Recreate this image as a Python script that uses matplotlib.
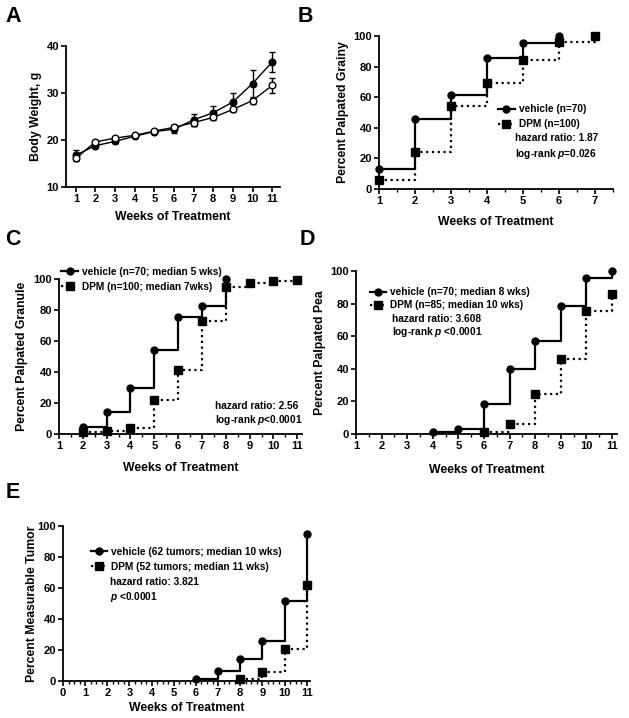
import matplotlib
matplotlib.use("Agg")
from matplotlib import pyplot as plt
from matplotlib.ticker import MultipleLocator

plt.rcParams["font.family"] = ["Liberation Sans", "DejaVu Sans"]
plt.rcParams["font.weight"] = "bold"
plt.rcParams["axes.labelweight"] = "bold"
plt.rcParams["mathtext.fontset"] = "custom"
plt.rcParams["mathtext.it"] = "Liberation Sans:italic:bold"
plt.rcParams["mathtext.rm"] = "Liberation Sans:bold"

# A: body weight
weeks_a = [1, 2, 3, 4, 5, 6, 7, 8, 9, 10, 11]
bw_filled = [16.8, 18.8, 19.7, 20.8, 21.8, 22.3, 24.3, 25.8, 28.1, 32.0, 36.6]
bw_filled_err = [1.0, 0.4, 0.4, 0.3, 0.3, 0.8, 1.3, 1.4, 2.0, 3.0, 2.2]
bw_open = [16.1, 19.6, 20.4, 21.0, 21.9, 22.7, 23.7, 24.8, 26.5, 28.4, 31.6]
bw_open_err = [0.5, 0.3, 0.3, 0.3, 0.3, 0.4, 0.8, 0.5, 0.6, 0.8, 1.6]

# B: palpated grainy
b_veh_x = [1, 2, 3, 4, 5, 6]
b_veh_y = [13.0, 45.7, 61.5, 85.9, 95.7, 100.0]
b_dpm_x = [1, 2, 3, 4, 5, 6, 7]
b_dpm_y = [6.0, 24.0, 54.0, 69.0, 84.0, 96.0, 100.0]

# C: palpated granule
c_veh_x = [2, 3, 4, 5, 6, 7, 8]
c_veh_y = [4.3, 14.3, 30.0, 54.3, 75.7, 82.9, 100.0]
c_dpm_x = [2, 3, 4, 5, 6, 7, 8, 9, 10, 11]
c_dpm_y = [1.0, 2.0, 4.0, 21.7, 41.0, 73.0, 94.6, 97.6, 98.9, 99.6]

# D: palpated pea
d_veh_x = [4, 5, 6, 7, 8, 9, 10, 11]
d_veh_y = [1.4, 2.9, 18.6, 40.0, 57.1, 78.6, 95.7, 100.0]
d_dpm_x = [6, 7, 8, 9, 10, 11]
d_dpm_y = [1.2, 5.9, 24.7, 45.9, 75.3, 85.9]

# E: measurable tumor
e_veh_x = [6, 7, 8, 9, 10, 11]
e_veh_y = [1.5, 6.3, 14.5, 25.8, 51.6, 94.8]
e_dpm_x = [8, 9, 10, 11]
e_dpm_y = [1.0, 5.8, 20.5, 61.7]

W, H = 629, 718
fig = plt.figure(figsize=(W / 100, H / 100), dpi=100)


def px_axes(left, right, top, bottom):
    return fig.add_axes([left / W, 1 - bottom / H, (right - left) / W, (bottom - top) / H])


def style(ax, xlabel, ylabel, xlab_y, ylab_x):
    for s in ["top", "right"]:
        ax.spines[s].set_visible(False)
    for s in ["left", "bottom"]:
        ax.spines[s].set_linewidth(1.3)
    ax.tick_params(which="major", length=3.5, width=1.2, labelsize=8, pad=1.5)
    ax.tick_params(which="minor", length=2, width=1.0)
    ax.set_xlabel(xlabel, fontsize=8.8)
    ax.set_ylabel(ylabel, fontsize=8.8)
    ax.xaxis.set_label_coords(0.5, xlab_y)
    ax.yaxis.set_label_coords(ylab_x, 0.5)
    ax.xaxis.label.set_va("center")
    ax.yaxis.label.set_va("center")


def km(ax, vx, vy, dx, dy):
    ax.plot(vx, vy, drawstyle="steps-post", color="black", lw=1.6,
            marker="o", ms=5, clip_on=False, zorder=3)
    ax.plot(dx, dy, drawstyle="steps-post", color="black", lw=1.6, ls=(0, (1, 1.6)),
            marker="s", ms=5.5, clip_on=False, zorder=3)


def km_legend(ax, vlab, dlab, x, y, spacing=0.5):
    h1, = ax.plot([], [], color="black", lw=1.6, marker="o", ms=5)
    h2, = ax.plot([], [], color="black", lw=1.6, ls=(0, (1, 1.6)), marker="s", ms=5.5)
    ax.legend([h1, h2], [vlab, dlab], loc="upper left", bbox_to_anchor=(x, y),
              frameon=False, fontsize=7.3, handlelength=1.6, handletextpad=0.4,
              labelspacing=spacing, borderpad=0, borderaxespad=0)


# Panel A
ax = px_axes(66, 280, 46, 187)
ax.errorbar(weeks_a, bw_filled, yerr=bw_filled_err, color="black", lw=1.0,
            marker="o", ms=4.8, mfc="black", capsize=2.5, elinewidth=1.0, clip_on=False)
ax.errorbar(weeks_a, bw_open, yerr=bw_open_err, color="black", lw=1.0,
            marker="o", ms=4.8, mfc="white", capsize=2.5, elinewidth=1.0, clip_on=False)
ax.set_xlim(0.5, 11.4)
ax.set_ylim(10, 40)
ax.set_xticks(weeks_a)
ax.set_yticks([10, 20, 30, 40])
style(ax, "Weeks of Treatment", "Body Weight, g", -0.213, -0.14)

# Panel B
ax = px_axes(379, 613, 36, 189)
km(ax, b_veh_x, b_veh_y, b_dpm_x, b_dpm_y)
ax.set_xlim(1, 7.5)
ax.set_ylim(0, 100)
ax.set_xticks(range(1, 8))
ax.xaxis.set_minor_locator(MultipleLocator(0.5))
ax.set_yticks(range(0, 101, 20))
style(ax, "Weeks of Treatment", "Percent Palpated Grainy", -0.216, -0.154)
km_legend(ax, "vehicle (n=70)", "DPM (n=100)", 0.51, 0.555)
ax.text(0.58, 0.333, "hazard ratio: 1.87", transform=ax.transAxes, fontsize=7.3, va="center")
ax.text(0.58, 0.229, r"log-rank $p$=0.026", transform=ax.transAxes, fontsize=7.3, va="center")

# Panel C
ax = px_axes(59, 302, 279, 434)
km(ax, c_veh_x, c_veh_y, c_dpm_x, c_dpm_y)
ax.set_xlim(1, 11.2)
ax.set_ylim(0, 100)
ax.set_xticks(range(1, 12))
ax.xaxis.set_minor_locator(MultipleLocator(0.5))
ax.set_yticks(range(0, 101, 20))
style(ax, "Weeks of Treatment", "Percent Palpated Granule", -0.219, -0.152)
km_legend(ax, "vehicle (n=70; median 5 wks)", "DPM (n=100; median 7wks)", 0.01, 1.08)
ax.text(0.642, 0.18, "hazard ratio: 2.56", transform=ax.transAxes, fontsize=7.3, va="center")
ax.text(0.642, 0.09, r"log-rank $p$<0.0001", transform=ax.transAxes, fontsize=7.3, va="center")

# Panel D
ax = px_axes(356, 617, 271, 434)
km(ax, d_veh_x, d_veh_y, d_dpm_x, d_dpm_y)
ax.set_xlim(1, 11.2)
ax.set_ylim(0, 100)
ax.set_xticks(range(1, 12))
ax.xaxis.set_minor_locator(MultipleLocator(0.5))
ax.set_yticks(range(0, 101, 20))
style(ax, "Weeks of Treatment", "Percent Palpated Pea", -0.221, -0.138)
km_legend(ax, "vehicle (n=70; median 8 wks)", "DPM (n=85; median 10 wks)", 0.054, 0.9, 0.3)
ax.text(0.138, 0.706, "hazard ratio: 3.608", transform=ax.transAxes, fontsize=7.3, va="center")
ax.text(0.138, 0.626, r"log-rank $p$ <0.0001", transform=ax.transAxes, fontsize=7.3, va="center")

# Panel E
ax = px_axes(63, 310, 526, 681)
km(ax, e_veh_x, e_veh_y, e_dpm_x, e_dpm_y)
ax.set_xlim(0, 11.15)
ax.set_ylim(0, 100)
ax.set_xticks(range(0, 12))
ax.xaxis.set_minor_locator(MultipleLocator(0.25))
ax.set_yticks(range(0, 101, 20))
style(ax, "Weeks of Treatment", "Percent Measurable Tumor", -0.174, -0.126)
km_legend(ax, "vehicle (62 tumors; median 10 wks)", "DPM (52 tumors; median 11 wks)", 0.113, 0.865)
ax.text(0.19, 0.639, "hazard ratio: 3.821", transform=ax.transAxes, fontsize=7.3, va="center")
ax.text(0.19, 0.542, r"$p$ <0.0001", transform=ax.transAxes, fontsize=7.3, va="center")

# panel letters
for letter, x, y in [("A", 5, 6), ("B", 298, 6), ("C", 5, 229), ("D", 300, 229), ("E", 6, 482)]:
    fig.text(x / W, 1 - y / H, letter, fontsize=15.5, fontweight="bold", va="top", ha="left")

fig.savefig("out.png", dpi=100)
